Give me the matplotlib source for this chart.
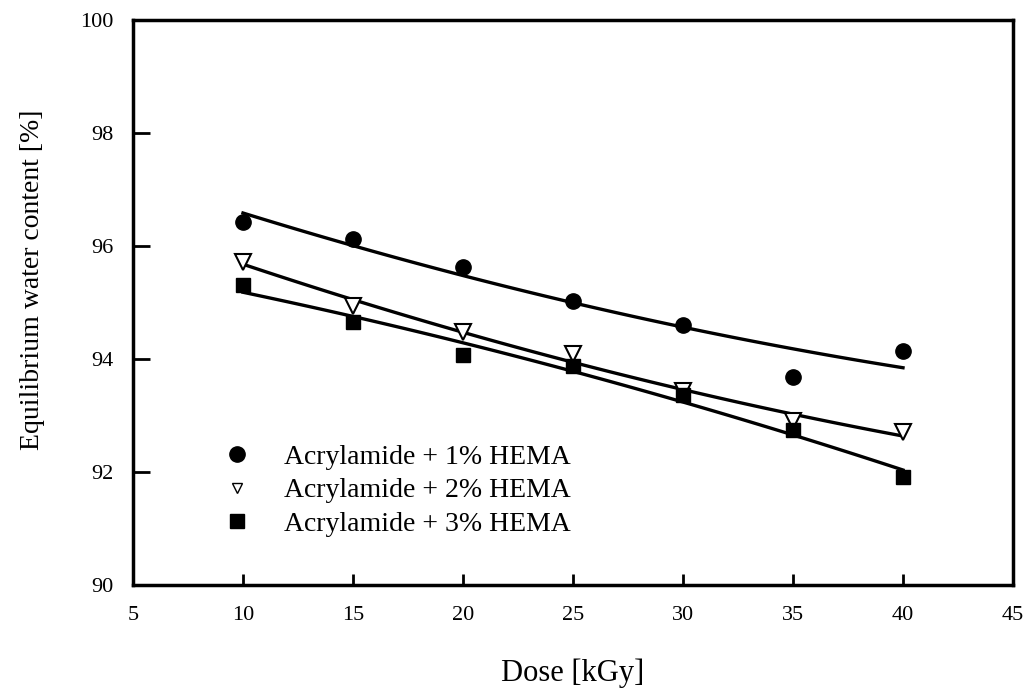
import numpy as np
import matplotlib
matplotlib.use("Agg")
import matplotlib.pyplot as plt
from matplotlib.lines import Line2D

plt.rcParams['font.family'] = ['Liberation Serif', 'DejaVu Serif']

# --- DATA ---
dose = [10, 15, 20, 25, 30, 35, 40]
hema_1 = [96.43, 96.13, 95.63, 95.03, 94.60, 93.69, 94.14]
hema_2 = [95.72, 94.94, 94.48, 94.09, 93.43, 92.90, 92.70]
hema_3 = [95.31, 94.65, 94.07, 93.87, 93.36, 92.75, 91.92]
labels = ["Acrylamide + 1% HEMA", "Acrylamide + 2% HEMA", "Acrylamide + 3% HEMA"]
x_ticks = [5, 10, 15, 20, 25, 30, 35, 40, 45]
y_ticks = [90, 92, 94, 96, 98, 100]

fig = plt.figure(figsize=(10.30, 6.88), dpi=100)
ax = fig.add_axes([0.1291, 0.1497, 0.8544, 0.8213])

# second order fits through each series
xs = np.linspace(10, 40, 100)
for ys in (hema_1, hema_2, hema_3):
    coef = np.polyfit(dose, ys, 2)
    ax.plot(xs, np.polyval(coef, xs), color='black', lw=2.4, zorder=2)

ax.plot(dose, hema_1, 'o', color='black', ms=11, zorder=3)
ax.plot(dose, hema_2, 'v', mfc='white', mec='black', mew=1.5, ms=11, zorder=3)
ax.plot(dose, hema_3, 's', color='black', ms=10, zorder=3)

ax.set_xlim(5, 45)
ax.set_ylim(90, 100)
ax.set_xticks(x_ticks)
ax.set_yticks(y_ticks)
ax.tick_params(direction='in', width=2, labelsize=16, colors='black')
ax.tick_params(axis='x', length=8, pad=15)
ax.tick_params(axis='y', length=12, pad=14)
for sp in ax.spines.values():
    sp.set_linewidth(2.5)

ax.set_xlabel("Dose [kGy]", fontsize=22, labelpad=24)
ax.set_ylabel("Equilibrium water content [%]", fontsize=20)
ax.yaxis.set_label_coords(-0.100, 0.54)

handles = [
    Line2D([], [], ls='none', marker='o', color='black', ms=11),
    Line2D([], [], ls='none', marker='v', mfc='white', mec='black', mew=1, ms=7),
    Line2D([], [], ls='none', marker='s', color='black', ms=10),
]
ax.legend(handles, labels, loc='upper left', bbox_to_anchor=(0.09, 0.268),
          frameon=False, fontsize=20, handletextpad=1.2, labelspacing=0.28,
          borderaxespad=0, handlelength=1.0)

fig.savefig("out.png", dpi=100)
